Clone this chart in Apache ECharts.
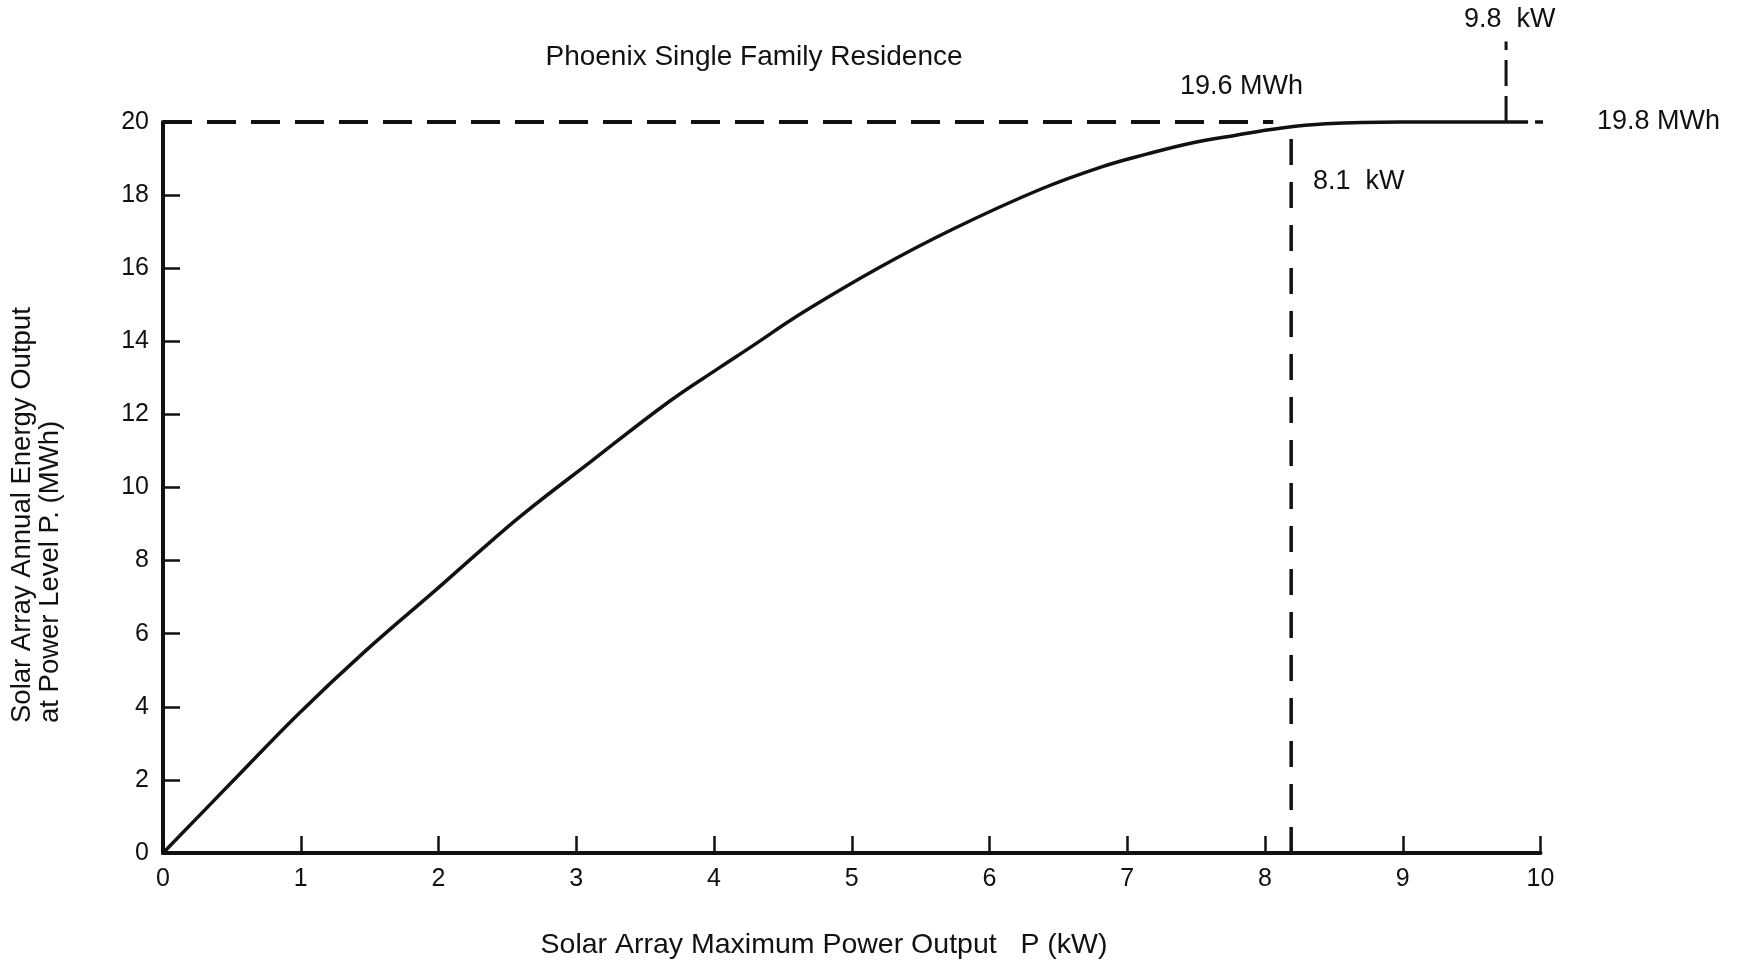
<!DOCTYPE html>
<html><head><meta charset="utf-8">
<script src="https://cdn.jsdelivr.net/npm/echarts@6/dist/echarts.min.js"></script>
<style>html,body{margin:0;padding:0;background:#fff}#c{width:1739px;height:964px}</style>
</head><body><div id="c"></div>
<script>
// Curve: solar array max power (kW) -> annual energy (MWh)
const powerKW   = [0, 0.5, 0.985, 1.47, 2.0, 2.3, 2.61, 3.12, 3.67, 4.04, 4.25, 4.65, 5.2, 5.74, 6.37, 6.82, 7.14, 7.46, 7.79, 8.11, 8.44, 8.98, 9.75];
const energyMWh = [0, 1.94, 3.81, 5.53, 7.26, 8.26, 9.26, 10.75, 12.34, 13.28, 13.8, 14.8, 16.02, 17.08, 18.16, 18.78, 19.12, 19.42, 19.64, 19.83, 19.95, 20.0, 20.0];

// Reference (dashed) lines
const plateauMWh = 20;
const leftDashEndKW = 8.06;
const rightDashEndKW = 10.33;
const kneeKW = 8.19, kneeTopMWh = 19.55;
const satKW = 9.75, satTopMWh = 22.2;

// Axis ticks
const xMin = 0, xMax = 10, xStep = 1;
const yMin = 0, yMax = 20, yStep = 2;

// Texts
const titleText = 'Phoenix Single Family Residence';
const xName = 'Solar Array Maximum Power Output   P (kW)';
const yName = 'Solar Array Annual Energy Output\nat Power Level P. (MWh)';
const annotations = ['19.6 MWh', '9.8  kW', '19.8 MWh', '8.1  kW'];

const FONT = '"Liberation Sans", Arial, Helvetica, sans-serif';
const INK = '#111';

const chart = echarts.init(document.getElementById('c'), null, {renderer: 'canvas'});

const curve = powerKW.map((x, i) => [x, energyMWh[i]]);

const txt = (text, x, y, align, size) => ({
  type: 'text', x, y, silent: true,
  style: {text, fill: INK, font: size + 'px ' + FONT, textAlign: align || 'left', textVerticalAlign: 'middle'}
});

chart.setOption({
  backgroundColor: '#fff',
  animation: false,
  grid: {left: 163, right: 198.5, top: 122, bottom: 111, containLabel: false},
  xAxis: {
    type: 'value', min: xMin, max: xMax, interval: xStep,
    axisLine: {show: true, lineStyle: {color: INK, width: 4}},
    axisTick: {show: true, inside: true, length: 17, lineStyle: {color: INK, width: 2.5}},
    axisLabel: {color: INK, fontSize: 25, fontFamily: FONT, margin: 14},
    splitLine: {show: false}
  },
  yAxis: {
    type: 'value', min: yMin, max: yMax, interval: yStep,
    axisLine: {show: true, lineStyle: {color: INK, width: 4}},
    axisTick: {show: true, inside: true, length: 17, lineStyle: {color: INK, width: 2.5}},
    axisLabel: {color: INK, fontSize: 25, fontFamily: FONT, margin: 14},
    splitLine: {show: false}
  },
  series: [
    {
      type: 'line', data: curve, smooth: 0.4, showSymbol: false, clip: false,
      lineStyle: {color: INK, width: 3.5}
    },
    {
      type: 'line', data: [[xMin, plateauMWh], [leftDashEndKW, plateauMWh]], showSymbol: false, clip: false,
      lineStyle: {color: INK, width: 4, type: [29, 15]}
    },
    {
      type: 'line', data: [[satKW, plateauMWh], [rightDashEndKW, plateauMWh]], showSymbol: false, clip: false,
      lineStyle: {color: INK, width: 3.5, type: [22, 7]}
    },
    {
      type: 'line', data: [[kneeKW, 0], [kneeKW, kneeTopMWh]], showSymbol: false, clip: false,
      lineStyle: {color: INK, width: 3.5, type: [26, 17]}
    },
    {
      type: 'line', data: [[satKW, plateauMWh], [satKW, satTopMWh]], showSymbol: false, clip: false,
      lineStyle: {color: INK, width: 3, type: [26, 10]}
    }
  ],
  graphic: [
    txt(titleText, 754, 57, 'center', 28),
    txt(xName, 824, 945, 'center', 28.5),
    {
      type: 'text', x: 36, y: 723, rotation: Math.PI / 2, silent: true,
      style: {text: yName, fill: INK, font: '27.5px ' + FONT, textAlign: 'left', textVerticalAlign: 'middle', lineHeight: 28}
    },
    txt(annotations[0], 1180, 87, 'left', 27),
    txt(annotations[1], 1464, 20, 'left', 27),
    txt(annotations[2], 1597, 122, 'left', 27),
    txt(annotations[3], 1313, 182, 'left', 27)
  ]
});
</script></body></html>
